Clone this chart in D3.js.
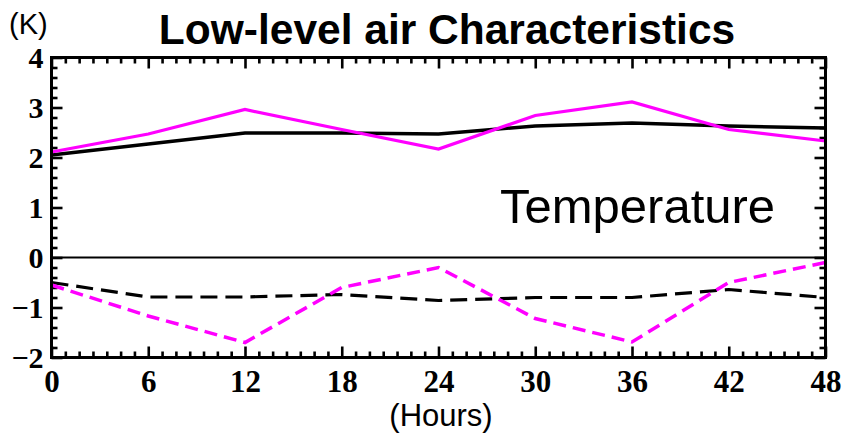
<!DOCTYPE html>
<html>
<head>
<meta charset="utf-8">
<script src="https://cdn.jsdelivr.net/npm/d3@7"></script>
<style>
  html, body { margin: 0; padding: 0; background: #fff; }
  svg { display: block; }
</style>
</head>
<body>
<svg id="chart" width="845" height="436"></svg>
<script>
// Forecast hours and temperature anomalies (K)
const hours = [0, 6, 12, 18, 24, 30, 36, 42, 48];
const blackSolid   = [2.05, 2.27, 2.49, 2.49, 2.47, 2.63, 2.69, 2.63, 2.59];
const magentaSolid = [2.11, 2.47, 2.96, 2.56, 2.17, 2.84, 3.11, 2.56, 2.33];
const blackDashed   = [-0.50, -0.79, -0.79, -0.74, -0.86, -0.80, -0.80, -0.64, -0.80];
const magentaDashed = [-0.55, -1.17, -1.70, -0.60, -0.20, -1.22, -1.69, -0.50, -0.10];
const xTicks = [0, 6, 12, 18, 24, 30, 36, 42, 48];
const yTicks = [-2, -1, 0, 1, 2, 3, 4];

const svg = d3.select("#chart");
const x = d3.scaleLinear().domain([0, 48]).range([51.5, 825.5]);
const y = d3.scaleLinear().domain([-2, 4]).range([357.5, 57.5]);

const xMinor = d3.range(0, 48.0001, 6 / 7).filter(v => xTicks.every(t => Math.abs(t - v) > 1e-6));
const yMinor = d3.range(-2, 4.0001, 0.2).filter(v => yTicks.every(t => Math.abs(t - v) > 1e-6));

// Inward ticks on all four sides
function tickSet(sel, axisFn, scale, vals, len, pos) {
  sel.append("g")
    .attr("transform", pos)
    .call(axisFn(scale).tickValues(vals).tickSize(len).tickFormat(""))
    .call(g => g.select(".domain").remove())
    .call(g => g.selectAll("line").attr("stroke", "#000").attr("stroke-width", 2.6));
}
const ax = svg.append("g");
tickSet(ax, d3.axisTop, x, xTicks, 11, `translate(0,${y(-2)})`);
tickSet(ax, d3.axisTop, x, xMinor, 6, `translate(0,${y(-2)})`);
tickSet(ax, d3.axisBottom, x, xTicks, 11, `translate(0,${y(4)})`);
tickSet(ax, d3.axisBottom, x, xMinor, 6, `translate(0,${y(4)})`);
tickSet(ax, d3.axisRight, y, yTicks, 11, `translate(${x(0)},0)`);
tickSet(ax, d3.axisRight, y, yMinor, 6, `translate(${x(0)},0)`);
tickSet(ax, d3.axisLeft, y, yTicks, 11, `translate(${x(48)},0)`);
tickSet(ax, d3.axisLeft, y, yMinor, 6, `translate(${x(48)},0)`);

// Tick labels
const labelFont = "'Liberation Serif', 'Times New Roman', serif";
svg.append("g")
  .attr("transform", `translate(0,${y(-2)})`)
  .call(d3.axisBottom(x).tickValues(xTicks).tickSize(0).tickPadding(12).tickFormat(d3.format("d")))
  .call(g => g.select(".domain").remove())
  .call(g => g.selectAll("text").attr("font-family", labelFont).attr("font-weight", "bold")
    .attr("font-size", 31).attr("fill", "#000"));
svg.append("g")
  .attr("transform", `translate(${x(0)},0)`)
  .call(d3.axisLeft(y).tickValues(yTicks).tickSize(0).tickPadding(8).tickFormat(d3.format("d")))
  .call(g => g.select(".domain").remove())
  .call(g => g.selectAll("text").attr("font-family", labelFont).attr("font-weight", "bold")
    .attr("font-size", 30).attr("fill", "#000"));

// Zero reference line
svg.append("line")
  .attr("x1", x(0)).attr("x2", x(48)).attr("y1", y(0)).attr("y2", y(0))
  .attr("stroke", "#000").attr("stroke-width", 2.2);

// Series
const line = d3.line().x((d, i) => x(hours[i])).y(d => y(d));
const series = [
  { v: blackDashed, c: "#000", w: 3.2, dash: "17 8" },
  { v: magentaDashed, c: "#ff00ff", w: 3.5, dash: "13 7" },
  { v: blackSolid, c: "#000", w: 3.5, dash: null },
  { v: magentaSolid, c: "#ff00ff", w: 3.2, dash: null }
];
svg.append("g").selectAll("path").data(series).join("path")
  .attr("d", d => line(d.v))
  .attr("fill", "none")
  .attr("stroke", d => d.c)
  .attr("stroke-width", d => d.w)
  .attr("stroke-dasharray", d => d.dash);

// Frame
svg.append("rect")
  .attr("x", x(0)).attr("y", y(4))
  .attr("width", x(48) - x(0)).attr("height", y(-2) - y(4))
  .attr("fill", "none").attr("stroke", "#000").attr("stroke-width", 3);

// Text
const sans = "'Liberation Sans', Arial, sans-serif";
svg.append("text").attr("x", 447).attr("y", 44).attr("text-anchor", "middle")
  .attr("font-family", sans).attr("font-weight", "bold").attr("font-size", 42.5)
  .text("Low-level air Characteristics");
svg.append("text").attr("x", 9).attr("y", 34)
  .attr("font-family", sans).attr("font-size", 29).text("(K)");
svg.append("text").attr("x", 441).attr("y", 426).attr("text-anchor", "middle")
  .attr("font-family", sans).attr("font-size", 31).text("(Hours)");
svg.append("text").attr("x", 500).attr("y", 223)
  .attr("font-family", sans).attr("font-size", 49).text("Temperature");
</script>
</body>
</html>
